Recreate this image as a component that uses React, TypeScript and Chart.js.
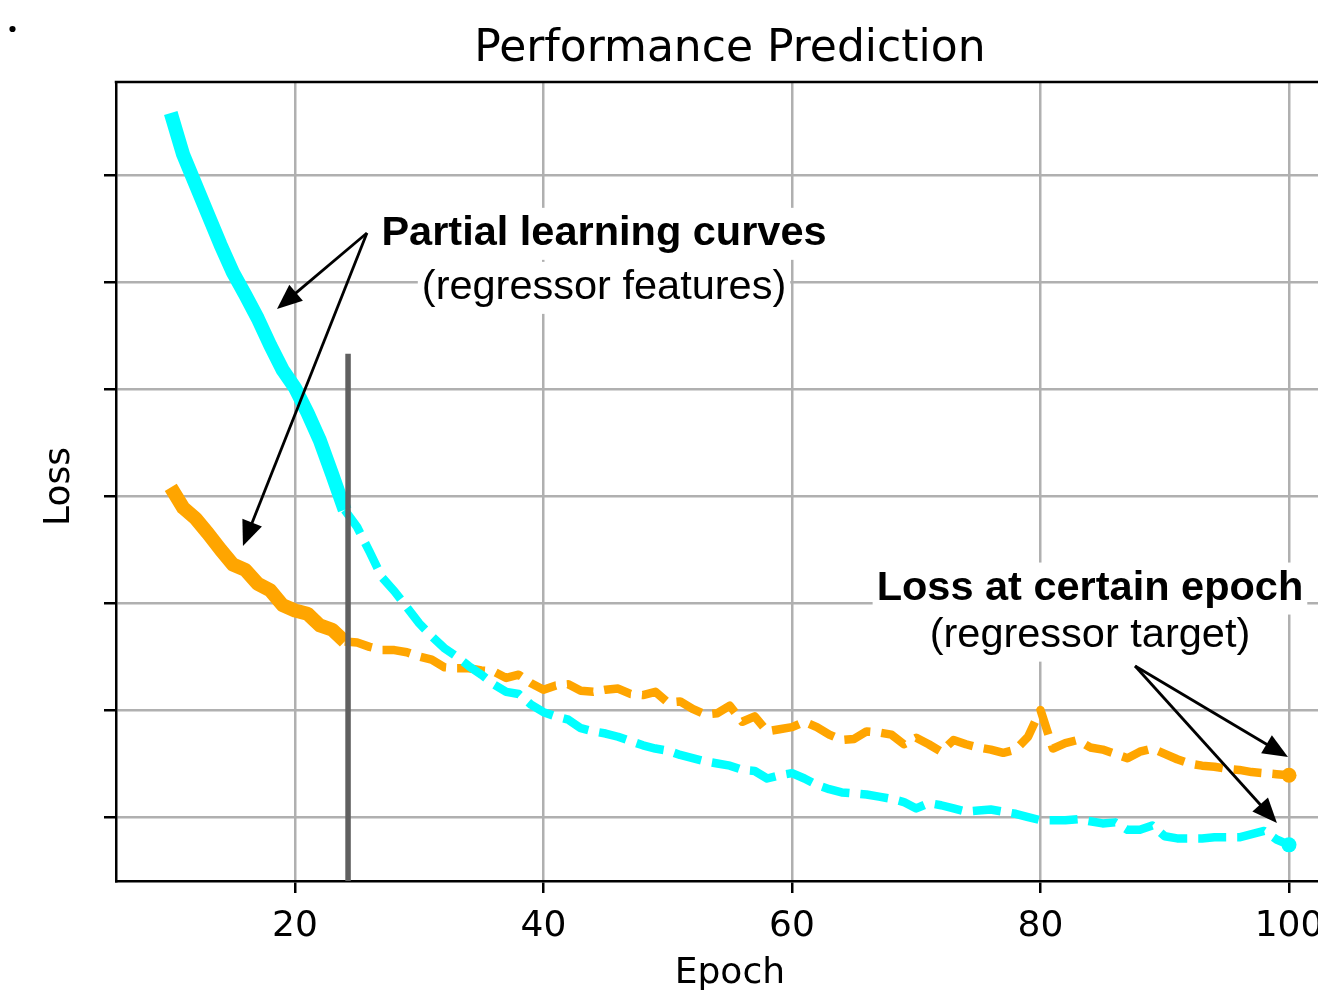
import React, { useEffect, useRef } from "react";
import { Chart, registerables } from "chart.js";

Chart.register(...registerables);

// ---------- data ----------
const partialEpochs = [10, 11, 12, 13, 14, 15, 16, 17, 18, 19, 20, 21, 22, 23, 24];
const laterEpochs = [
  24, 25, 26, 27, 28, 29, 30, 31, 32, 33, 34, 35, 36, 37, 38, 39, 40, 41, 42, 43,
  44, 45, 46, 47, 48, 49, 50, 51, 52, 53, 54, 55, 56, 57, 58, 59, 60, 61, 62, 63,
  64, 65, 66, 67, 68, 69, 70, 71, 72, 73, 74, 75, 76, 77, 78, 79, 80, 81, 82, 83,
  84, 85, 86, 87, 88, 89, 90, 91, 92, 93, 94, 95, 96, 97, 98, 99, 100,
];

const cyanPartial = [7.58, 7.19, 6.91, 6.63, 6.35, 6.09, 5.88, 5.66, 5.41, 5.18, 5.01, 4.78, 4.52, 4.2, 3.87];
const cyanLater = [
  3.87, 3.71, 3.48, 3.24, 3.11, 2.96, 2.81, 2.69, 2.58, 2.5,
  2.41, 2.33, 2.24, 2.17, 2.15, 2.05, 1.98, 1.94, 1.91, 1.83,
  1.8, 1.78, 1.75, 1.71, 1.67, 1.64, 1.62, 1.58, 1.55, 1.52,
  1.5, 1.48, 1.44, 1.43, 1.36, 1.39, 1.41, 1.36, 1.3, 1.26,
  1.23, 1.22, 1.21, 1.19, 1.17, 1.14, 1.08, 1.13, 1.11, 1.08,
  1.05, 1.06, 1.07, 1.05, 1.03, 1.0, 0.97, 0.97, 0.97, 0.98,
  0.96, 0.94, 0.95, 0.88, 0.88, 0.92, 0.82, 0.8, 0.8, 0.8,
  0.81, 0.81, 0.81, 0.84, 0.87, 0.79, 0.74,
];

const orangePartial = [4.08, 3.89, 3.79, 3.65, 3.5, 3.36, 3.31, 3.18, 3.12, 2.98, 2.93, 2.9, 2.79, 2.75, 2.64];
const orangeLater = [
  2.64, 2.63, 2.59, 2.56, 2.56, 2.54, 2.5, 2.47, 2.4, 2.39,
  2.39, 2.37, 2.36, 2.3, 2.33, 2.25, 2.19, 2.23, 2.24, 2.18,
  2.17, 2.19, 2.2, 2.15, 2.14, 2.17, 2.07, 2.08, 2.01, 1.96,
  1.97, 2.04, 1.89, 1.94, 1.8, 1.82, 1.84, 1.89, 1.84, 1.77,
  1.72, 1.73, 1.8, 1.79, 1.77, 1.68, 1.74, 1.68, 1.61, 1.72,
  1.68, 1.65, 1.63, 1.6, 1.63, 1.75, 2.0, 1.64, 1.69, 1.72,
  1.65, 1.63, 1.59, 1.55, 1.61, 1.64, 1.59, 1.54, 1.5, 1.48,
  1.47, 1.45, 1.44, 1.42, 1.41, 1.4, 1.39,
];

const xTickValues = [20, 40, 60, 80, 100];
const yTickValues = [1, 2, 3, 4, 5, 6, 7];

const titleText = "Performance Prediction";
const xLabel = "Epoch";
const yLabel = "Loss";

const cutoffEpoch = 24.27;
const cutoffTop = 5.33;

const noteFeatures = { bold: "Partial learning curves", sub: "(regressor features)", x: 44.87, yBold: 6.45, ySub: 5.945 };
const noteFeaturesArrowFrom = [25.79, 6.458];
const noteFeaturesArrowTo = [[18.55, 5.748], [15.81, 3.533]];

const noteTarget = { bold: "Loss at certain epoch", sub: "(regressor target)", x: 83.98, yBold: 3.135, ySub: 2.695 };
const noteTargetArrowFrom = [87.61, 2.411];
const noteTargetArrowTo = [[99.92, 1.561], [99.03, 0.944]];

const titleCenterEpoch = 55.0;

// ---------- layout helpers ----------
const CYAN = "#00ffff";
const ORANGE = "#ffa500";
const CANVAS_W = 1400;
const CANVAS_H = 1001;
// target pixel positions of the 20 and 100 epoch gridlines
const PX20 = 295;
const PX100 = 1289;

function pts(xs: number[], ys: number[]) {
  return xs.map((x, i) => ({ x, y: ys[i] }));
}

function drawArrow(ctx: CanvasRenderingContext2D, x0: number, y0: number, x1: number, y1: number) {
  const ang = Math.atan2(y1 - y0, x1 - x0);
  const hl = 25;
  const hw = 10.5;
  const c = Math.cos(ang);
  const s = Math.sin(ang);
  const bx = x1 - hl * c;
  const by = y1 - hl * s;
  ctx.strokeStyle = "#000";
  ctx.fillStyle = "#000";
  ctx.lineWidth = 2.8;
  ctx.beginPath();
  ctx.moveTo(x0, y0);
  ctx.lineTo(bx + 2 * c, by + 2 * s);
  ctx.stroke();
  ctx.beginPath();
  ctx.moveTo(x1, y1);
  ctx.lineTo(bx - hw * s, by + hw * c);
  ctx.lineTo(bx + hw * s, by - hw * c);
  ctx.closePath();
  ctx.fill();
}

function drawBoxedText(ctx: CanvasRenderingContext2D, text: string, px: number, py: number, font: string) {
  ctx.font = font;
  const w = ctx.measureText(text).width;
  ctx.fillStyle = "#fff";
  ctx.fillRect(px - w / 2 - 4, py - 26, w + 8, 52);
  ctx.fillStyle = "#000";
  ctx.textAlign = "center";
  ctx.textBaseline = "middle";
  ctx.fillText(text, px, py);
}

const overlayPlugin = {
  id: "overlay",
  afterDatasetsDraw(chart: any) {
    const { ctx, chartArea } = chart;
    const xs = chart.scales.x;
    const ys = chart.scales.y;
    ctx.save();

    // cutoff vertical line
    const cx = xs.getPixelForValue(cutoffEpoch);
    ctx.strokeStyle = "#606060";
    ctx.lineWidth = 5.5;
    ctx.beginPath();
    ctx.moveTo(cx, ys.getPixelForValue(cutoffTop));
    ctx.lineTo(cx, chartArea.bottom);
    ctx.stroke();

    // frame top + right
    ctx.strokeStyle = "#000";
    ctx.lineWidth = 2.5;
    ctx.beginPath();
    ctx.moveTo(chartArea.left - 1.25, chartArea.top);
    ctx.lineTo(chartArea.right, chartArea.top);
    ctx.lineTo(chartArea.right, chartArea.bottom);
    ctx.stroke();

    // arrows
    const groups: [number[], number[][]][] = [
      [noteFeaturesArrowFrom, noteFeaturesArrowTo],
      [noteTargetArrowFrom, noteTargetArrowTo],
    ];
    for (const [from, tos] of groups) {
      const fx = xs.getPixelForValue(from[0]);
      const fy = ys.getPixelForValue(from[1]);
      for (const t of tos) {
        drawArrow(ctx, fx, fy, xs.getPixelForValue(t[0]), ys.getPixelForValue(t[1]));
      }
    }

    // annotation texts
    for (const n of [noteFeatures, noteTarget]) {
      const px = xs.getPixelForValue(n.x);
      drawBoxedText(ctx, n.bold, px, ys.getPixelForValue(n.yBold), 'bold 41.5px "Liberation Sans", Arial, sans-serif');
      drawBoxedText(ctx, n.sub, px, ys.getPixelForValue(n.ySub), '41.5px "Liberation Sans", Arial, sans-serif');
    }

    const midX = xs.getPixelForValue(titleCenterEpoch);

    // title
    ctx.fillStyle = "#000";
    ctx.font = '44px "DejaVu Sans"';
    ctx.textAlign = "center";
    ctx.textBaseline = "middle";
    ctx.fillText(titleText, midX, 50);

    // axis titles
    ctx.font = '36px "DejaVu Sans"';
    ctx.fillText(xLabel, midX, 974);
    ctx.save();
    ctx.translate(60, (chartArea.top + chartArea.bottom) / 2 + 5);
    ctx.rotate(-Math.PI / 2);
    ctx.fillText(yLabel, 0, 0);
    ctx.restore();

    // stray dot
    ctx.beginPath();
    ctx.arc(12.5, 29, 3.1, 0, Math.PI * 2);
    ctx.fill();

    ctx.restore();
  },
};

export default function App() {
  const canvasRef = useRef<HTMLCanvasElement | null>(null);

  useEffect(() => {
    const canvas = canvasRef.current;
    if (!canvas) return;
    const lastIdx = laterEpochs.length - 1;
    const chart: any = new Chart(canvas, {
      type: "line",
      data: {
        datasets: [
          {
            data: pts(laterEpochs, cyanLater),
            borderColor: CYAN,
            backgroundColor: CYAN,
            borderWidth: 8.5,
            borderDash: [28, 11],
            borderCapStyle: "butt",
            borderJoinStyle: "round",
            pointRadius: (c: any) => (c.dataIndex === lastIdx ? 7.5 : 0),
            pointBorderWidth: 0,
            pointBackgroundColor: CYAN,
            fill: false,
            tension: 0,
          },
          {
            data: pts(laterEpochs, orangeLater),
            borderColor: ORANGE,
            backgroundColor: ORANGE,
            borderWidth: 8.5,
            borderDash: [28, 11],
            borderCapStyle: "butt",
            borderJoinStyle: "round",
            pointRadius: (c: any) => (c.dataIndex === lastIdx ? 7.5 : 0),
            pointBorderWidth: 0,
            pointBackgroundColor: ORANGE,
            fill: false,
            tension: 0,
          },
          {
            data: pts(partialEpochs, cyanPartial),
            borderColor: CYAN,
            borderWidth: 14,
            borderCapStyle: "butt",
            borderJoinStyle: "round",
            pointRadius: 0,
            fill: false,
            tension: 0,
          },
          {
            data: pts(partialEpochs, orangePartial),
            borderColor: ORANGE,
            borderWidth: 14,
            borderCapStyle: "butt",
            borderJoinStyle: "round",
            pointRadius: 0,
            fill: false,
            tension: 0,
          },
        ],
      },
      options: {
        responsive: false,
        animation: false,
        devicePixelRatio: 1,
        events: [],
        layout: { autoPadding: false, padding: { top: 82, left: 0, right: 0, bottom: 0 } },
        plugins: {
          legend: { display: false },
          tooltip: { enabled: false },
          title: { display: false },
        },
        scales: {
          x: {
            type: "linear",
            min: 5.59,
            max: 108.5,
            afterBuildTicks: (s: any) => {
              s.ticks = xTickValues.map((v) => ({ value: v }));
            },
            afterFit: (s: any) => {
              s.height = 120;
              s.paddingLeft = 0;
              s.paddingRight = 0;
            },
            grid: {
              color: "#b0b0b0",
              lineWidth: 2.5,
              drawTicks: true,
              tickLength: 12,
              tickColor: "#000",
              tickWidth: 2.5,
            },
            border: { display: true, color: "#000", width: 2.5 },
            ticks: {
              color: "#000",
              padding: 12,
              font: { family: "DejaVu Sans", size: 36 },
              maxRotation: 0,
              autoSkip: false,
              callback: (v: any) => String(v),
            },
            title: { display: false },
          },
          y: {
            type: "linear",
            min: 0.402,
            max: 7.869,
            afterBuildTicks: (s: any) => {
              s.ticks = yTickValues.map((v) => ({ value: v }));
            },
            afterFit: (s: any) => {
              s.width = 116;
              s.paddingTop = 0;
              s.paddingBottom = 0;
            },
            grid: {
              color: "#b0b0b0",
              lineWidth: 2.5,
              drawTicks: true,
              tickLength: 12,
              tickColor: "#000",
              tickWidth: 2.5,
            },
            border: { display: true, color: "#000", width: 2.5 },
            ticks: { display: false },
            title: { display: false },
          },
        },
      },
      plugins: [overlayPlugin],
    } as any);

    // calibrate the x range so the 20/100 gridlines land where the reference has them
    const area = chart.chartArea;
    const k = (PX100 - PX20) / (xTickValues[4] - xTickValues[0]);
    const xmin = xTickValues[0] - (PX20 - area.left) / k;
    const xmax = xmin + (area.right - area.left) / k;
    chart.options.scales.x.min = xmin;
    chart.options.scales.x.max = xmax;
    chart.update();

    return () => chart.destroy();
  }, []);

  return (
    <div
      style={{
        position: "absolute",
        left: 0,
        top: 0,
        width: 1318,
        height: 1001,
        overflow: "hidden",
        background: "#fff",
      }}
    >
      <div style={{ width: CANVAS_W, height: CANVAS_H }}>
        <canvas
          ref={canvasRef}
          width={CANVAS_W}
          height={CANVAS_H}
          style={{ display: "block", width: CANVAS_W, height: CANVAS_H }}
        />
      </div>
    </div>
  );
}
